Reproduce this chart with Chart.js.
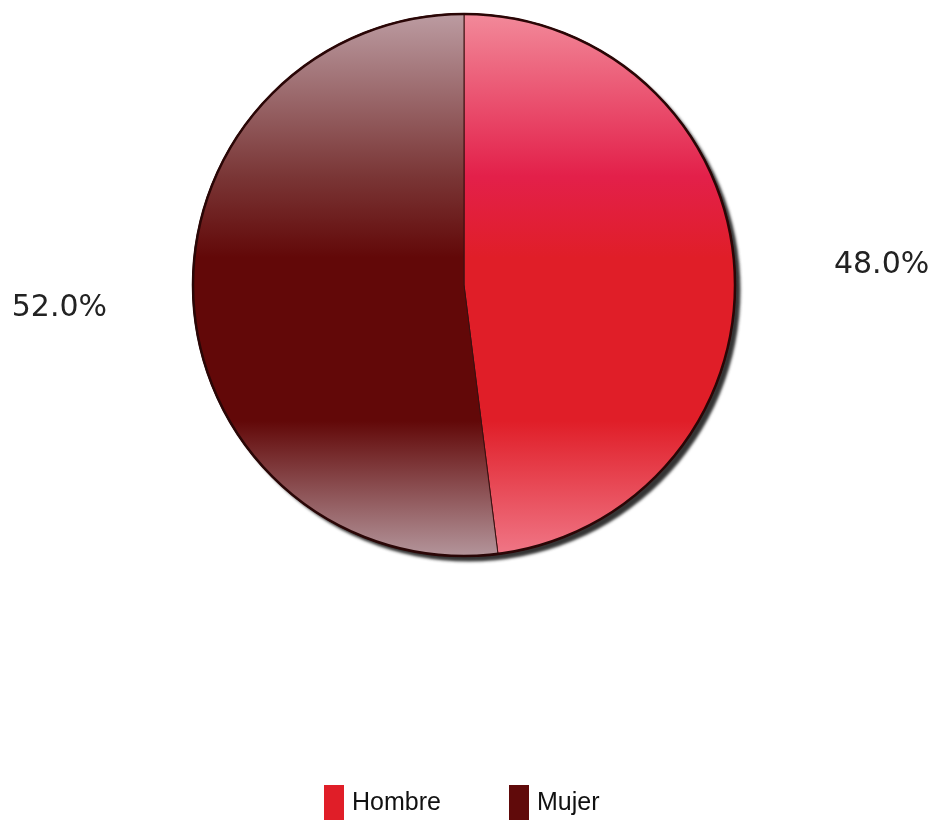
<!DOCTYPE html>
<html>
<head>
<meta charset="utf-8">
<script src="https://cdn.jsdelivr.net/npm/chart.js@4/dist/chart.umd.min.js"></script>
<style>
  html, body { margin: 0; padding: 0; background: #fff; }
  #wrap { width: 934px; height: 820px; }
</style>
</head>
<body>
<div id="wrap"><canvas id="pie" width="934" height="820"></canvas></div>
<script>
// values
const labels = ["Hombre", "Mujer"];
const values = [48.0, 52.0];
const pctText = ["48.0%", "52.0%"];

// flat colours for the legend, gradient stops for the slices
const flatColors = ["#e01e28", "#600a0a"];
const gradStops = [
  ["#f28a9a", "#e3204a", "#e01e28", "#e01e28", "#f07888"],
  ["#bc9ca2", "#7a3636", "#620808", "#620808", "#b4969c"]
];

function sliceFill(ctx) {
  const chart = ctx.chart;
  const area = chart.chartArea;
  if (!area) return flatColors[ctx.dataIndex];
  const g = chart.ctx.createLinearGradient(0, area.top, 0, area.bottom);
  const s = gradStops[ctx.dataIndex];
  g.addColorStop(0.0, s[0]);
  g.addColorStop(0.3, s[1]);
  g.addColorStop(0.45, s[2]);
  g.addColorStop(0.75, s[3]);
  g.addColorStop(1.0, s[4]);
  return g;
}

// one drop shadow under the whole pie, and a dark rim on top
const shadowPlugin = {
  id: "pieShadow",
  beforeDatasetsDraw(chart) {
    const arc = chart.getDatasetMeta(0).data[0];
    if (!arc) return;
    const c = chart.ctx;
    c.save();
    c.shadowColor = "rgba(30,30,30,0.9)";
    c.shadowOffsetX = 5;
    c.shadowOffsetY = 5;
    c.shadowBlur = 3;
    c.fillStyle = "#333";
    c.beginPath();
    c.arc(arc.x, arc.y, arc.outerRadius, 0, Math.PI * 2);
    c.fill();
    c.restore();
  },
  afterDatasetsDraw(chart) {
    const arc = chart.getDatasetMeta(0).data[0];
    if (!arc) return;
    const c = chart.ctx;
    c.save();
    c.strokeStyle = "#2a0606";
    c.lineWidth = 2.5;
    c.beginPath();
    c.arc(arc.x, arc.y, arc.outerRadius - 0.5, 0, Math.PI * 2);
    c.stroke();
    c.restore();
  }
};

// percentage labels beside the pie
const pctPlugin = {
  id: "pctLabels",
  afterDraw(chart) {
    const c = chart.ctx;
    const meta = chart.getDatasetMeta(0);
    c.save();
    c.font = "30px 'DejaVu Sans'";
    c.fillStyle = "#222";
    c.textBaseline = "middle";
    c.textAlign = "center";
    meta.data.forEach((arc, i) => {
      const mid = (arc.startAngle + arc.endAngle) / 2;
      const right = Math.cos(mid) > 0;
      const dist = arc.outerRadius * 1.53;
      const x = arc.x + Math.cos(mid) * dist + (right ? 3 : 10);
      const y = arc.y + Math.sin(mid) * dist + (right ? 6 : -3);
      c.fillText(pctText[i], x, y);
    });
    c.restore();
  }
};

// legend row at the bottom
const legendPlugin = {
  id: "bottomLegend",
  afterDraw(chart) {
    const c = chart.ctx;
    c.save();
    c.font = "25px 'Liberation Sans', Arial, sans-serif";
    c.textBaseline = "middle";
    const yMid = 802;
    const xs = [324, 509];
    chart.data.labels.forEach((lab, i) => {
      c.fillStyle = flatColors[i];
      c.fillRect(xs[i], yMid - 17, 20, 35);
      c.fillStyle = "#111";
      c.fillText(lab, xs[i] + 28, yMid + 1);
    });
    c.restore();
  }
};

new Chart(document.getElementById("pie"), {
  type: "pie",
  data: {
    labels: labels,
    datasets: [{
      data: values,
      backgroundColor: sliceFill,
      borderColor: "#3a1010",
      borderWidth: 1,
      borderAlign: "center"
    }]
  },
  options: {
    responsive: false,
    animation: false,
    layout: { padding: { top: 13, bottom: 263, left: 0, right: 6 } },
    plugins: {
      legend: { display: false },
      tooltip: { enabled: false }
    }
  },
  plugins: [shadowPlugin, pctPlugin, legendPlugin]
});
</script>
</body>
</html>
